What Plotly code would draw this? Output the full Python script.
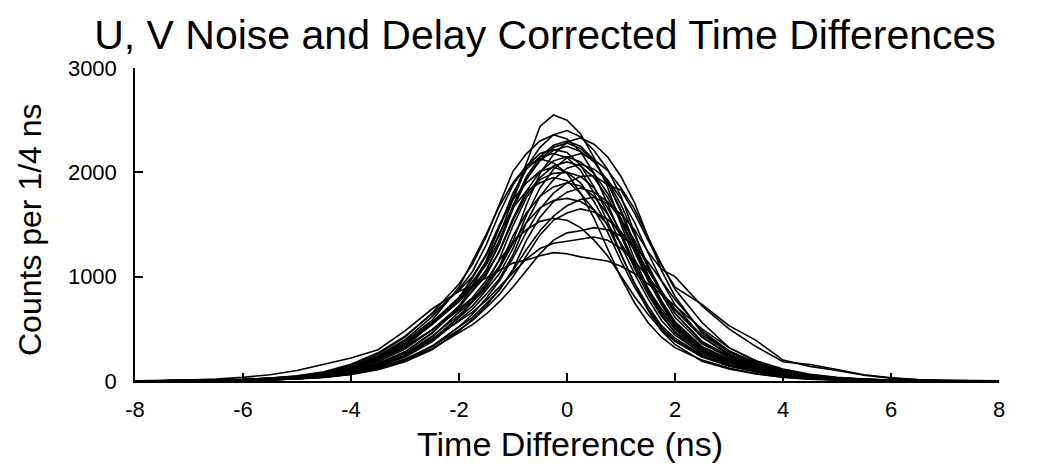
import plotly.graph_objects as go

# Time difference grid (ns)
time_ns = [-8, -7.5, -7, -6.5, -6, -5.5, -5, -4.5, -4, -3.5, -3, -2.5,
           -2, -1.75, -1.5, -1.25, -1, -0.75, -0.5, -0.25, 0, 0.25, 0.5, 0.75,
           1, 1.25, 1.5, 1.75, 2, 2.5, 3, 3.5, 4, 4.5, 5, 5.5, 6, 6.5, 7, 7.5, 8]

# Counts per 1/4 ns, one list per channel
ch01 = [0,1,2,5,10,18,35,62,115,210,350,560,800,990,1200,1480,1760,2090,2440,2550,2500,2370,2140,1860,1500,1170,890,660,510,300,190,115,60,30,15,8,4,2,0,0,0]
ch02 = [0,1,2,5,11,20,33,58,105,200,330,545,780,950,1140,1400,1740,2050,2240,2360,2400,2340,2210,2030,1770,1420,1090,830,610,355,230,140,75,40,20,9,4,2,1,0,0]
ch03 = [0,1,3,7,14,25,45,80,150,255,420,650,930,1120,1380,1700,2010,2180,2300,2360,2320,2200,1990,1700,1400,1080,830,620,470,280,180,110,58,28,14,7,3,1,0,0,0]
ch04 = [0,0,1,3,7,14,25,45,80,150,250,420,660,770,940,1100,1340,1690,1990,2170,2290,2330,2270,2150,1960,1710,1380,1060,810,460,280,170,100,55,28,14,7,3,1,0,0]
ch05 = [0,0,1,3,7,14,25,45,85,165,280,460,700,870,1050,1320,1680,1960,2150,2260,2300,2250,2120,1900,1620,1290,980,730,530,300,185,110,60,30,15,8,4,2,0,0,0]
ch06 = [0,1,3,6,12,22,40,70,125,225,360,560,800,950,1110,1350,1680,1940,2110,2210,2250,2200,2100,1920,1690,1400,1110,860,650,380,240,150,85,44,22,11,5,2,1,0,0]
ch07 = [0,1,3,6,13,24,44,76,140,240,395,615,880,1050,1300,1610,1880,2060,2180,2220,2190,2070,1860,1610,1300,1030,790,580,440,265,165,98,52,26,13,6,3,1,0,0,0]
ch08 = [0,0,1,3,7,13,24,44,76,140,240,390,610,720,870,1030,1270,1590,1850,2030,2140,2180,2120,2020,1850,1650,1380,1120,880,560,320,190,110,60,30,15,7,3,1,0,0]
ch09 = [0,0,2,4,9,17,31,55,98,185,305,490,715,860,1010,1250,1560,1820,2010,2110,2150,2100,1990,1800,1560,1260,990,750,560,320,205,125,68,34,17,8,4,2,0,0,0]
ch10 = [0,1,3,7,13,24,42,75,130,230,380,580,900,1150,1400,1680,1900,2060,2130,2090,1990,1800,1560,1270,990,750,560,420,320,200,125,70,36,18,9,4,2,1,0,0,0]
ch11 = [0,1,3,6,12,22,38,68,120,220,360,560,780,900,1030,1240,1540,1790,1950,2060,2100,2060,1950,1760,1530,1240,965,735,545,315,200,122,67,34,17,8,4,2,0,0,0]
ch12 = [0,0,1,3,6,12,23,42,73,135,230,375,580,690,830,980,1210,1520,1770,1930,2040,2080,2030,1930,1750,1520,1230,960,730,420,250,155,94,50,25,12,6,3,1,0,0]
ch13 = [0,1,4,8,15,28,50,88,160,270,430,640,870,1000,1210,1500,1740,1900,2010,2050,2000,1900,1720,1490,1210,940,720,530,410,245,155,92,49,25,12,6,3,1,0,0,0]
ch14 = [0,0,1,3,6,12,22,40,75,145,245,400,610,760,920,1170,1490,1760,1930,1990,2000,1960,1850,1660,1420,1130,860,640,460,250,150,90,50,25,12,6,3,1,0,0,0]
ch15 = [0,0,1,3,6,11,20,36,65,115,200,330,520,640,790,960,1180,1430,1650,1800,1900,1960,1970,1880,1830,1610,1350,1110,900,735,530,390,200,140,100,55,28,12,5,2,0]
ch16 = [0,0,1,2,5,10,19,35,62,108,185,300,480,590,720,880,1060,1260,1440,1580,1680,1740,1760,1700,1600,1450,1240,1070,1000,720,500,330,185,158,110,60,30,14,6,2,1]
ch17 = [0,1,3,6,12,21,39,68,125,215,350,545,790,920,1120,1420,1660,1820,1900,1950,1920,1800,1640,1430,1150,900,690,510,390,235,145,88,47,23,12,6,3,1,0,0,0]
ch18 = [0,0,2,4,8,15,27,48,86,160,265,430,630,760,890,1100,1390,1610,1770,1860,1900,1870,1770,1600,1390,1120,875,665,495,285,180,110,61,30,15,8,4,2,0,0,0]
ch19 = [0,0,1,3,6,11,20,37,65,120,205,335,520,610,740,870,1070,1350,1570,1720,1810,1850,1810,1720,1550,1350,1090,850,650,370,222,139,83,44,22,11,6,3,1,0,0]
ch20 = [0,1,3,6,12,22,38,66,115,200,320,490,680,790,900,1080,1320,1520,1660,1730,1750,1720,1640,1500,1320,1100,880,690,530,320,205,128,72,38,20,10,5,2,1,0,0]
ch21 = [0,0,1,3,7,13,24,42,72,125,210,330,490,580,700,830,1000,1200,1400,1540,1610,1650,1620,1550,1430,1260,1060,860,680,420,260,160,92,50,26,13,6,3,1,0,0]
ch22 = [0,1,3,7,13,24,42,72,125,210,330,490,690,800,960,1160,1330,1450,1530,1560,1540,1470,1350,1200,1010,810,640,490,380,230,145,88,48,24,12,6,3,1,0,0,0]
ch23 = [0,0,1,3,6,12,22,40,70,120,200,310,460,540,640,760,900,1060,1220,1350,1420,1440,1470,1450,1390,1290,1140,960,780,480,290,175,100,54,28,14,7,3,1,0,0]
ch24 = [0,1,2,5,10,19,34,60,100,170,270,400,570,660,770,900,1040,1170,1270,1320,1340,1360,1380,1350,1270,1150,1000,840,690,440,280,175,100,55,28,14,7,3,1,0,0]
ch25 = [1,3,8,18,35,60,100,160,220,300,480,690,860,915,990,1060,1130,1160,1200,1230,1220,1190,1170,1150,1100,1030,930,830,720,500,320,195,115,65,35,18,9,4,2,1,0]
ch26 = [0,1,3,6,12,22,40,70,125,220,350,540,760,900,1060,1320,1650,1930,2120,2240,2280,2230,2110,1900,1640,1320,1020,770,570,330,210,128,70,35,17,8,4,2,0,0,0]
ch27 = [0,0,1,3,7,14,26,48,90,165,280,460,720,900,1150,1480,1800,2030,2150,2180,2140,2020,1800,1530,1220,930,680,480,350,190,115,68,36,18,9,4,2,1,0,0,0]

channels = [ch01, ch02, ch03, ch04, ch05, ch06, ch07, ch08, ch09, ch10, ch11, ch12, ch13, ch14,
            ch15, ch16, ch17, ch18, ch19, ch20, ch21, ch22, ch23, ch24, ch25, ch26, ch27]

x_ticks = [-8, -6, -4, -2, 0, 2, 4, 6, 8]
y_ticks = [0, 1000, 2000, 3000]

FONT = "Arial, Liberation Sans, Helvetica, sans-serif"

fig = go.Figure()
for counts in channels:
    fig.add_trace(go.Scatter(x=time_ns, y=counts, mode="lines",
                             line=dict(color="black", width=1.6),
                             showlegend=False, hoverinfo="skip"))

fig.update_layout(
    width=1050, height=469,
    margin=dict(l=127, r=59, t=60, b=96),
    paper_bgcolor="white", plot_bgcolor="white",
    font=dict(family=FONT, color="black", size=22),
    title=dict(text="U, V Noise and Delay Corrected Time Differences",
               x=537 / 1050, xanchor="center", xref="container",
               y=1 - 27 / 469, yanchor="middle", yref="container",
               font=dict(family=FONT, size=41, color="black")),
    showlegend=False,
    annotations=[
        dict(text="Time Difference (ns)", xref="paper", yref="paper",
             x=(562 - 127) / 864, y=(373 - 436) / 313, xanchor="center", yanchor="middle",
             showarrow=False, font=dict(family=FONT, size=34, color="black")),
        dict(text="Counts per 1/4 ns", xref="paper", yref="paper", textangle=-90,
             x=(22 - 127) / 864, y=(373 - 222) / 313, xanchor="center", yanchor="middle",
             showarrow=False, font=dict(family=FONT, size=32, color="black")),
    ],
)
fig.update_xaxes(range=[-8, 8], tickvals=x_ticks, ticktext=[str(v) for v in x_ticks],
                 ticks="inside", ticklen=8, tickwidth=1.5, tickcolor="black",
                 ticklabelstandoff=8,
                 showline=True, linecolor="black", linewidth=1.5, mirror=False,
                 showgrid=False, zeroline=False)
fig.update_yaxes(range=[0, 3000], tickvals=y_ticks, ticktext=[str(v) for v in y_ticks],
                 ticks="inside", ticklen=8, tickwidth=1.5, tickcolor="black",
                 ticklabelstandoff=12,
                 showline=True, linecolor="black", linewidth=1.5, mirror=False,
                 showgrid=False, zeroline=False)

fig.write_html("out.html")
